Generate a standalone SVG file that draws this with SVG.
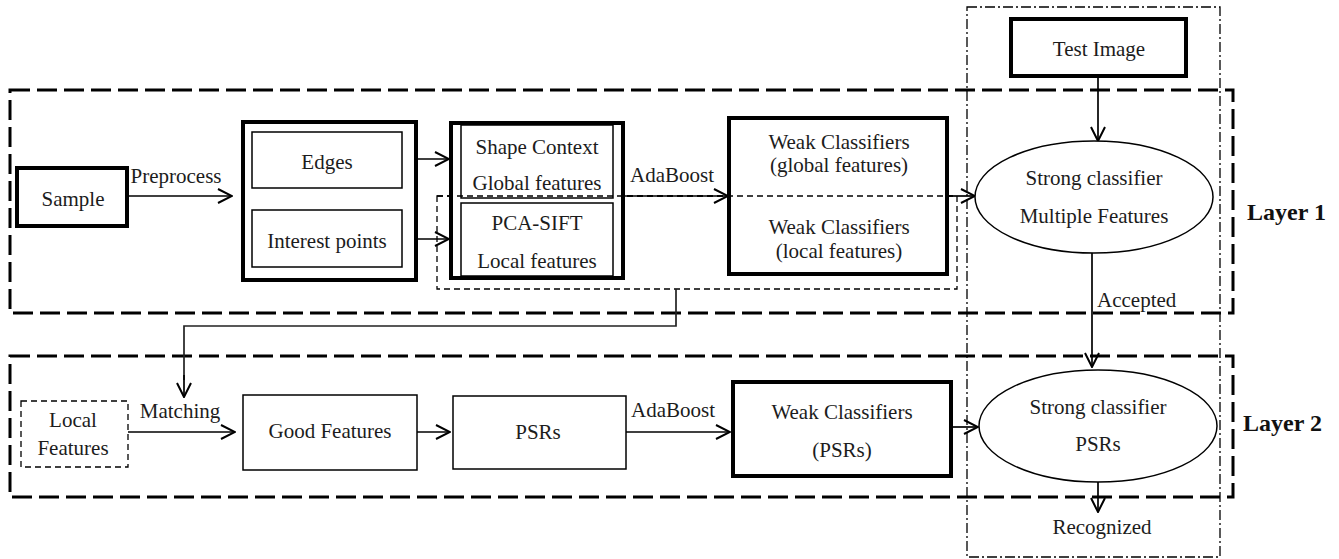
<svg xmlns="http://www.w3.org/2000/svg" width="1339" height="559" viewBox="0 0 1339 559">
  <defs>
    <style>
      text { font-family: "Liberation Serif", "Times New Roman", serif; font-size: 21px; fill: #1c1c1c; text-anchor: middle; }
      .label { font-weight: bold; font-size: 24px; text-anchor: start; fill: #111; }
      .left { text-anchor: start; }
      .thick { fill: #fff; stroke: #000; stroke-width: 4; }
      .thin { fill: #fff; stroke: #000; stroke-width: 1.5; }
      .group { fill: none; stroke: #000; stroke-width: 3; stroke-dasharray: 20 7; }
      .fine-dash { fill: none; stroke: #000; stroke-width: 1.3; stroke-dasharray: 6 4; }
      .dashdot { fill: none; stroke: #000; stroke-width: 1.3; stroke-dasharray: 10 3 2 3; }
      .edge { fill: none; stroke: #000; stroke-width: 1.7; marker-end: url(#arrow); }
      .plain { fill: none; stroke: #222; stroke-width: 1.7; }
    </style>
    <marker id="arrow" viewBox="0 0 16 16" markerWidth="16" markerHeight="16" refX="15" refY="8" orient="auto" markerUnits="userSpaceOnUse">
      <path d="M1,1 L15,8 L1,15" fill="none" stroke="#000" stroke-width="2"/>
    </marker>
  </defs>

  <!-- layer frames -->
  <g id="frames">
    <rect class="group" x="10" y="90" width="1223" height="223"/>
    <rect class="group" x="10" y="356" width="1223" height="141"/>
    <rect class="dashdot" x="967" y="7" width="253" height="550"/>
    <rect class="fine-dash" x="437" y="196" width="520" height="93"/>
    <text class="label" x="1247" y="220">Layer 1</text>
    <text class="label" x="1243" y="431">Layer 2</text>
  </g>

  <!-- connectors -->
  <g id="connectors">
    <line class="edge" x1="127" y1="196" x2="232" y2="196"/>
    <text x="176" y="183">Preprocess</text>
    <line class="edge" x1="416" y1="159" x2="449" y2="159"/>
    <line class="edge" x1="416" y1="239" x2="449" y2="239"/>
    <line class="edge" x1="624" y1="196" x2="728" y2="196"/>
    <text x="672" y="182">AdaBoost</text>
    <line class="edge" x1="947" y1="196" x2="975" y2="196"/>
    <line class="edge" x1="1098" y1="76" x2="1098" y2="141"/>
    <line class="edge" x1="1092" y1="253" x2="1092" y2="367"/>
    <text class="left" x="1097" y="307">Accepted</text>
    <polyline class="plain" points="676,289 676,326 184,326 184,380"/>
    <line class="edge" x1="184" y1="375" x2="184" y2="397"/>
    <line class="edge" x1="128" y1="432" x2="235" y2="432"/>
    <text x="180" y="418">Matching</text>
    <line class="edge" x1="417" y1="432" x2="450" y2="432"/>
    <line class="edge" x1="626" y1="432" x2="730" y2="432"/>
    <text x="673" y="417">AdaBoost</text>
    <line class="edge" x1="951" y1="427" x2="978" y2="427"/>
    <line class="edge" x1="1098" y1="482" x2="1098" y2="512"/>
    <text x="1102" y="534">Recognized</text>
  </g>

  <g id="sample">
    <rect class="thick" x="17" y="168" width="110" height="58"/>
    <text x="73" y="206">Sample</text>
  </g>

  <g id="preprocessed">
    <rect class="thick" x="243" y="122" width="173" height="158"/>
    <rect class="thin" x="252" y="132" width="150" height="56"/>
    <text x="327" y="169">Edges</text>
    <rect class="thin" x="252" y="210" width="150" height="57"/>
    <text x="327" y="248">Interest points</text>
  </g>

  <g id="descriptors">
    <rect class="thick" x="451" y="123" width="172" height="155"/>
    <rect class="thin" x="461" y="125" width="152" height="73"/>
    <text x="537" y="154">Shape Context</text>
    <text x="537" y="190">Global features</text>
    <rect class="thin" x="461" y="203" width="152" height="73"/>
    <text x="537" y="230">PCA-SIFT</text>
    <text x="537" y="268">Local features</text>
  </g>

  <g id="weak-classifiers-1">
    <rect class="thick" x="729" y="118" width="218" height="156"/>
    <text x="839" y="149">Weak Classifiers</text>
    <text x="839" y="172">(global features)</text>
    <text x="839" y="234">Weak Classifiers</text>
    <text x="839" y="258">(local features)</text>
  </g>

  <!-- dashed divider crossing the descriptor and classifier boxes -->
  <g id="local-branch">
    <line class="fine-dash" x1="437" y1="196" x2="957" y2="196"/>
  </g>

  <g id="test-image">
    <rect class="thick" x="1011" y="19" width="175" height="57"/>
    <text x="1099" y="56">Test Image</text>
  </g>

  <g id="strong-classifier-1">
    <ellipse class="thin" cx="1094" cy="197" rx="119" ry="56"/>
    <text x="1094" y="185">Strong classifier</text>
    <text x="1094" y="223">Multiple Features</text>
  </g>

  <g id="local-features">
    <rect class="fine-dash" x="21" y="401" width="107" height="66" style="fill:#fff"/>
    <text x="73" y="427">Local</text>
    <text x="73" y="455">Features</text>
  </g>

  <g id="good-features">
    <rect class="thin" x="243" y="395" width="174" height="75"/>
    <text x="330" y="438">Good Features</text>
  </g>

  <g id="psrs">
    <rect class="thin" x="453" y="396" width="173" height="73"/>
    <text x="538" y="439">PSRs</text>
  </g>

  <g id="weak-classifiers-2">
    <rect class="thick" x="733" y="382" width="218" height="94"/>
    <text x="842" y="419">Weak Classifiers</text>
    <text x="842" y="457">(PSRs)</text>
  </g>

  <g id="strong-classifier-2">
    <ellipse class="thin" cx="1098" cy="426" rx="119" ry="56"/>
    <text x="1098" y="414">Strong classifier</text>
    <text x="1098" y="451">PSRs</text>
  </g>
</svg>
